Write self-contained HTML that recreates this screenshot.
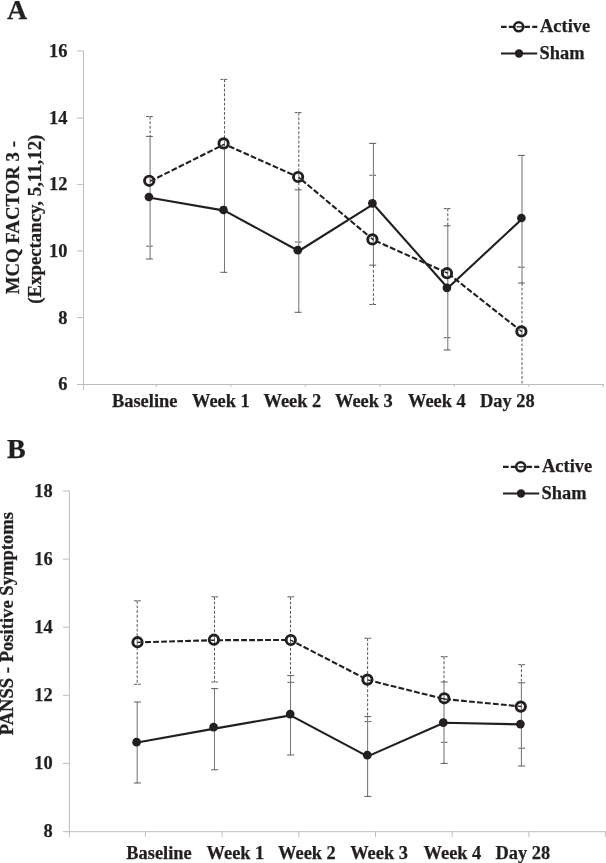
<!DOCTYPE html>
<html><head><meta charset="utf-8"><title>Figure</title>
<style>
html,body{margin:0;padding:0;background:#fff;}
svg{display:block;font-family:"Liberation Serif",serif;font-weight:bold;font-size:18.4px;fill:#231f20;}
text{stroke:#231f20;stroke-width:0.25px;}
.pl{font-size:28px;}
.yt{font-size:18.6px;}
.yt2{font-size:18.8px;}
</style></head><body>
<svg width="606" height="863" viewBox="0 0 606 863">
<rect width="606" height="863" fill="#fff"/>

<text class="pl" x="7" y="19">A</text>
<path d="M83.5 51.0V389.7M77.0 384.5H603.8" stroke="#bdbdbd" stroke-width="1" fill="none"/>
<line x1="77.0" y1="50.9" x2="83.5" y2="50.9" stroke="#bdbdbd" stroke-width="1"/>
<text x="67.5" y="56.6" text-anchor="end">16</text>
<line x1="77.0" y1="118.0" x2="83.5" y2="118.0" stroke="#bdbdbd" stroke-width="1"/>
<text x="67.5" y="123.6" text-anchor="end">14</text>
<line x1="77.0" y1="184.4" x2="83.5" y2="184.4" stroke="#bdbdbd" stroke-width="1"/>
<text x="67.5" y="190.3" text-anchor="end">12</text>
<line x1="77.0" y1="250.9" x2="83.5" y2="250.9" stroke="#bdbdbd" stroke-width="1"/>
<text x="67.5" y="257.0" text-anchor="end">10</text>
<line x1="77.0" y1="317.6" x2="83.5" y2="317.6" stroke="#bdbdbd" stroke-width="1"/>
<text x="67.5" y="323.6" text-anchor="end">8</text>
<text x="67.5" y="390.1" text-anchor="end">6</text>
<line x1="156.3" y1="384.5" x2="156.3" y2="387.0" stroke="#bdbdbd" stroke-width="1"/>
<line x1="230.8" y1="384.5" x2="230.8" y2="387.0" stroke="#bdbdbd" stroke-width="1"/>
<line x1="305.3" y1="384.5" x2="305.3" y2="387.0" stroke="#bdbdbd" stroke-width="1"/>
<line x1="379.8" y1="384.5" x2="379.8" y2="387.0" stroke="#bdbdbd" stroke-width="1"/>
<line x1="454.3" y1="384.5" x2="454.3" y2="387.0" stroke="#bdbdbd" stroke-width="1"/>
<line x1="528.8" y1="384.5" x2="528.8" y2="387.0" stroke="#bdbdbd" stroke-width="1"/>
<line x1="603.3" y1="384.5" x2="603.3" y2="387.0" stroke="#bdbdbd" stroke-width="1"/>
<path d="M150.1 116.5V136.4" stroke="#5e5e5e" stroke-width="1.05" stroke-dasharray="2.9 1.75" fill="none"/>
<path d="M146.10 116.5h6.7M146.10 246.2h6.7" stroke="#4a4a4a" stroke-width="0.9" stroke-dasharray="3 0.8" fill="none"/>
<path d="M224.5 79.4V148.5" stroke="#5e5e5e" stroke-width="1.05" stroke-dasharray="2.9 1.75" fill="none"/>
<path d="M220.50 79.4h6.7M220.50 207h6.7" stroke="#4a4a4a" stroke-width="0.9" stroke-dasharray="3 0.8" fill="none"/>
<path d="M298.8 112.6V189.8" stroke="#5e5e5e" stroke-width="1.05" stroke-dasharray="2.9 1.75" fill="none"/>
<path d="M294.80 112.6h6.7M294.80 242h6.7" stroke="#4a4a4a" stroke-width="0.9" stroke-dasharray="3 0.8" fill="none"/>
<path d="M373.4 265.2V304.5" stroke="#5e5e5e" stroke-width="1.05" stroke-dasharray="2.9 1.75" fill="none"/>
<path d="M369.40 175.3h6.7M369.40 304.5h6.7" stroke="#4a4a4a" stroke-width="0.9" stroke-dasharray="3 0.8" fill="none"/>
<path d="M447.8 208.6V225.8" stroke="#5e5e5e" stroke-width="1.05" stroke-dasharray="2.9 1.75" fill="none"/>
<path d="M443.80 208.6h6.7M443.80 337.7h6.7" stroke="#4a4a4a" stroke-width="0.9" stroke-dasharray="3 0.8" fill="none"/>
<path d="M522.0 283V384.5" stroke="#5e5e5e" stroke-width="1.05" stroke-dasharray="2.9 1.75" fill="none"/>
<path d="M518.00 267.2h6.7" stroke="#4a4a4a" stroke-width="0.9" stroke-dasharray="3 0.8" fill="none"/>
<path d="M150.1 136.4V259" stroke="#767676" stroke-width="1.05" fill="none"/>
<path d="M145.90 136.4h7M145.90 259h7" stroke="#4a4a4a" stroke-width="0.9" fill="none"/>
<path d="M224.5 148.5V272.3" stroke="#767676" stroke-width="1.05" fill="none"/>
<path d="M220.30 148.5h7M220.30 272.3h7" stroke="#4a4a4a" stroke-width="0.9" fill="none"/>
<path d="M298.8 189.8V312.3" stroke="#767676" stroke-width="1.05" fill="none"/>
<path d="M294.60 189.8h7M294.60 312.3h7" stroke="#4a4a4a" stroke-width="0.9" fill="none"/>
<path d="M373.4 143.4V265.2" stroke="#767676" stroke-width="1.05" fill="none"/>
<path d="M369.20 143.4h7M369.20 265.2h7" stroke="#4a4a4a" stroke-width="0.9" fill="none"/>
<path d="M447.8 225.8V350" stroke="#767676" stroke-width="1.05" fill="none"/>
<path d="M443.60 225.8h7M443.60 350h7" stroke="#4a4a4a" stroke-width="0.9" fill="none"/>
<path d="M522.0 155.4V283" stroke="#767676" stroke-width="1.05" fill="none"/>
<path d="M517.80 155.4h7M517.80 283h7" stroke="#4a4a4a" stroke-width="0.9" fill="none"/>
<polyline points="150.1,197.7 224.5,210.6 298.8,251.0 373.4,204.2 447.8,288.0 522.0,219.0" fill="none" stroke="#231f20" stroke-width="2.1" stroke-linejoin="round"/>
<polyline points="150.1,181.3 224.5,144.2 298.8,177.4 373.4,239.9 447.8,273.2 522.0,331.8" fill="none" stroke="#231f20" stroke-width="2.1" stroke-dasharray="5.8 2.2"/>
<circle cx="148.9" cy="197" r="4.35" fill="#231f20"/>
<circle cx="223.5" cy="210" r="4.35" fill="#231f20"/>
<circle cx="297.8" cy="250.2" r="4.35" fill="#231f20"/>
<circle cx="372.4" cy="203.3" r="4.35" fill="#231f20"/>
<circle cx="446.9" cy="287.8" r="4.35" fill="#231f20"/>
<circle cx="521.4" cy="218" r="4.35" fill="#231f20"/>
<circle cx="149.2" cy="180.8" r="4.65" fill="#fff" stroke="#231f20" stroke-width="2.9"/>
<line x1="150.1" y1="177.73" x2="150.1" y2="183.87" stroke="#767676" stroke-width="1.05"/>
<line x1="150.1" y1="181.3" x2="152.40" y2="179.98" stroke="#231f20" stroke-width="1.4"/>
<circle cx="223.6" cy="143.4" r="4.65" fill="#fff" stroke="#231f20" stroke-width="2.9"/>
<line x1="224.5" y1="140.33" x2="224.5" y2="146.47" stroke="#767676" stroke-width="1.05"/>
<line x1="224.5" y1="144.2" x2="221.46" y2="145.72" stroke="#231f20" stroke-width="1.4"/>
<circle cx="298.1" cy="177" r="4.65" fill="#fff" stroke="#231f20" stroke-width="2.9"/>
<line x1="298.8" y1="173.88" x2="298.8" y2="180.12" stroke="#767676" stroke-width="1.05"/>
<line x1="298.8" y1="177.4" x2="300.70" y2="179.03" stroke="#231f20" stroke-width="1.4"/>
<circle cx="372.4" cy="239.4" r="4.65" fill="#fff" stroke="#231f20" stroke-width="2.9"/>
<line x1="373.4" y1="236.36" x2="373.4" y2="242.44" stroke="#767676" stroke-width="1.05"/>
<line x1="373.4" y1="239.9" x2="370.79" y2="237.72" stroke="#231f20" stroke-width="1.4"/>
<circle cx="447" cy="273.2" r="4.65" fill="#fff" stroke="#231f20" stroke-width="2.9"/>
<line x1="447.8" y1="270.10" x2="447.8" y2="276.30" stroke="#767676" stroke-width="1.05"/>
<line x1="447.8" y1="273.2" x2="444.70" y2="271.81" stroke="#231f20" stroke-width="1.4"/>
<circle cx="521.4" cy="331.4" r="4.65" fill="#fff" stroke="#231f20" stroke-width="2.9"/>
<line x1="522.0" y1="328.26" x2="522.0" y2="334.54" stroke="#767676" stroke-width="1.05"/>
<line x1="522.0" y1="331.8" x2="519.33" y2="329.69" stroke="#231f20" stroke-width="1.4"/>
<text x="112" y="407">Baseline</text>
<text x="192" y="407">Week 1</text>
<text x="263.5" y="407">Week 2</text>
<text x="335" y="407">Week 3</text>
<text x="408" y="407">Week 4</text>
<text x="480" y="407">Day 28</text>
<text class="yt2" transform="translate(19,294.3) rotate(-90)">MCQ FACTOR 3 -</text>
<text class="yt2" transform="translate(40.5,303.7) rotate(-90)">(Expectancy, 5,11,12)</text>
<line x1="501" y1="26.8" x2="537.3" y2="26.8" stroke="#231f20" stroke-width="2.2" stroke-dasharray="5.6 2.2"/>
<circle cx="518.7" cy="26.8" r="4.5" fill="#fff" stroke="#231f20" stroke-width="2.6"/>
<line x1="516.6" y1="26.8" x2="522.2" y2="26.8" stroke="#231f20" stroke-width="1.3"/>
<text x="540.1" y="32.4">Active</text>
<line x1="501" y1="53.5" x2="537.2" y2="53.5" stroke="#231f20" stroke-width="2.2"/>
<circle cx="519" cy="53.5" r="4.2" fill="#231f20"/>
<text x="539.6" y="59.0">Sham</text>
<text class="pl" x="7" y="457.6">B</text>
<path d="M69.4 491V836.7M62.900000000000006 831.7H606" stroke="#bdbdbd" stroke-width="1" fill="none"/>
<line x1="62.900000000000006" y1="491.0" x2="69.4" y2="491.0" stroke="#bdbdbd" stroke-width="1"/>
<text x="52.6" y="496.6" text-anchor="end">18</text>
<line x1="62.900000000000006" y1="559.1" x2="69.4" y2="559.1" stroke="#bdbdbd" stroke-width="1"/>
<text x="52.6" y="564.7" text-anchor="end">16</text>
<line x1="62.900000000000006" y1="627.2" x2="69.4" y2="627.2" stroke="#bdbdbd" stroke-width="1"/>
<text x="52.6" y="632.8" text-anchor="end">14</text>
<line x1="62.900000000000006" y1="695.3" x2="69.4" y2="695.3" stroke="#bdbdbd" stroke-width="1"/>
<text x="52.6" y="700.9" text-anchor="end">12</text>
<line x1="62.900000000000006" y1="763.4" x2="69.4" y2="763.4" stroke="#bdbdbd" stroke-width="1"/>
<text x="52.6" y="769.0" text-anchor="end">10</text>
<text x="52.6" y="837.1" text-anchor="end">8</text>
<line x1="145.4" y1="831.7" x2="145.4" y2="836.9000000000001" stroke="#bdbdbd" stroke-width="1"/>
<line x1="222.1" y1="831.7" x2="222.1" y2="836.9000000000001" stroke="#bdbdbd" stroke-width="1"/>
<line x1="298.8" y1="831.7" x2="298.8" y2="836.9000000000001" stroke="#bdbdbd" stroke-width="1"/>
<line x1="375.5" y1="831.7" x2="375.5" y2="836.9000000000001" stroke="#bdbdbd" stroke-width="1"/>
<line x1="452.2" y1="831.7" x2="452.2" y2="836.9000000000001" stroke="#bdbdbd" stroke-width="1"/>
<line x1="528.9" y1="831.7" x2="528.9" y2="836.9000000000001" stroke="#bdbdbd" stroke-width="1"/>
<line x1="605.6" y1="831.7" x2="605.6" y2="836.9000000000001" stroke="#bdbdbd" stroke-width="1"/>
<path d="M137.2 600.8V684.3" stroke="#5e5e5e" stroke-width="1.05" stroke-dasharray="2.9 1.75" fill="none"/>
<path d="M134.10 600.8h6.7M134.10 684.3h6.7" stroke="#4a4a4a" stroke-width="0.9" stroke-dasharray="3 0.8" fill="none"/>
<path d="M214.5 596.8V682" stroke="#5e5e5e" stroke-width="1.05" stroke-dasharray="2.9 1.75" fill="none"/>
<path d="M211.40 596.8h6.7M211.40 682h6.7" stroke="#4a4a4a" stroke-width="0.9" stroke-dasharray="3 0.8" fill="none"/>
<path d="M290.5 596.8V675.6" stroke="#5e5e5e" stroke-width="1.05" stroke-dasharray="2.9 1.75" fill="none"/>
<path d="M287.40 596.8h6.7M287.40 682.3h6.7" stroke="#4a4a4a" stroke-width="0.9" stroke-dasharray="3 0.8" fill="none"/>
<path d="M367.6 638.2V716.6" stroke="#5e5e5e" stroke-width="1.05" stroke-dasharray="2.9 1.75" fill="none"/>
<path d="M364.50 638.2h6.7M364.50 721.6h6.7" stroke="#4a4a4a" stroke-width="0.9" stroke-dasharray="3 0.8" fill="none"/>
<path d="M444.0 656.7V682" stroke="#5e5e5e" stroke-width="1.05" stroke-dasharray="2.9 1.75" fill="none"/>
<path d="M440.90 656.7h6.7M440.90 742.3h6.7" stroke="#4a4a4a" stroke-width="0.9" stroke-dasharray="3 0.8" fill="none"/>
<path d="M521.4 664.7V682.8" stroke="#5e5e5e" stroke-width="1.05" stroke-dasharray="2.9 1.75" fill="none"/>
<path d="M518.30 664.7h6.7M518.30 748.2h6.7" stroke="#4a4a4a" stroke-width="0.9" stroke-dasharray="3 0.8" fill="none"/>
<path d="M137.2 702V783" stroke="#767676" stroke-width="1.05" fill="none"/>
<path d="M133.90 702h7M133.90 783h7" stroke="#4a4a4a" stroke-width="0.9" fill="none"/>
<path d="M214.5 688.6V769.8" stroke="#767676" stroke-width="1.05" fill="none"/>
<path d="M211.20 688.6h7M211.20 769.8h7" stroke="#4a4a4a" stroke-width="0.9" fill="none"/>
<path d="M290.5 675.6V755" stroke="#767676" stroke-width="1.05" fill="none"/>
<path d="M287.20 675.6h7M287.20 755h7" stroke="#4a4a4a" stroke-width="0.9" fill="none"/>
<path d="M367.6 716.6V796.4" stroke="#767676" stroke-width="1.05" fill="none"/>
<path d="M364.30 716.6h7M364.30 796.4h7" stroke="#4a4a4a" stroke-width="0.9" fill="none"/>
<path d="M444.0 682V763.4" stroke="#767676" stroke-width="1.05" fill="none"/>
<path d="M440.70 682h7M440.70 763.4h7" stroke="#4a4a4a" stroke-width="0.9" fill="none"/>
<path d="M521.4 682.8V766" stroke="#767676" stroke-width="1.05" fill="none"/>
<path d="M518.10 682.8h7M518.10 766h7" stroke="#4a4a4a" stroke-width="0.9" fill="none"/>
<polyline points="137.2,742.5 214.5,728.6 290.5,715.4 367.6,756.4 444.0,722.7 521.4,724.4" fill="none" stroke="#231f20" stroke-width="2.1" stroke-linejoin="round"/>
<polyline points="137.2,642.4 214.5,640.2 290.5,640.0 367.6,679.9 444.0,699.0 521.4,706.5" fill="none" stroke="#231f20" stroke-width="2.1" stroke-dasharray="5.8 2.2"/>
<circle cx="136.6" cy="742.2" r="4.35" fill="#231f20"/>
<circle cx="213.6" cy="727.2" r="4.35" fill="#231f20"/>
<circle cx="290.2" cy="714.1" r="4.35" fill="#231f20"/>
<circle cx="367.3" cy="755.2" r="4.35" fill="#231f20"/>
<circle cx="443.3" cy="722.6" r="4.35" fill="#231f20"/>
<circle cx="520.4" cy="724.1" r="4.35" fill="#231f20"/>
<circle cx="137.5" cy="642.2" r="4.65" fill="#fff" stroke="#231f20" stroke-width="2.9"/>
<line x1="137.2" y1="639.01" x2="137.2" y2="645.39" stroke="#767676" stroke-width="1.05"/>
<line x1="137.2" y1="642.4" x2="140.60" y2="642.30" stroke="#231f20" stroke-width="1.4"/>
<circle cx="213.9" cy="639.7" r="4.65" fill="#fff" stroke="#231f20" stroke-width="2.9"/>
<line x1="214.5" y1="636.56" x2="214.5" y2="642.84" stroke="#767676" stroke-width="1.05"/>
<line x1="214.5" y1="640.2" x2="211.10" y2="640.30" stroke="#231f20" stroke-width="1.4"/>
<circle cx="290.8" cy="640" r="4.65" fill="#fff" stroke="#231f20" stroke-width="2.9"/>
<line x1="290.5" y1="636.81" x2="290.5" y2="643.19" stroke="#767676" stroke-width="1.05"/>
<line x1="290.5" y1="640.0" x2="293.52" y2="641.56" stroke="#231f20" stroke-width="1.4"/>
<circle cx="367.4" cy="679.6" r="4.65" fill="#fff" stroke="#231f20" stroke-width="2.9"/>
<line x1="367.6" y1="676.41" x2="367.6" y2="682.79" stroke="#767676" stroke-width="1.05"/>
<line x1="367.6" y1="679.9" x2="370.54" y2="680.61" stroke="#231f20" stroke-width="1.4"/>
<circle cx="444.3" cy="698.3" r="4.65" fill="#fff" stroke="#231f20" stroke-width="2.9"/>
<line x1="444.0" y1="695.11" x2="444.0" y2="701.49" stroke="#767676" stroke-width="1.05"/>
<line x1="444.0" y1="699.0" x2="441.00" y2="698.19" stroke="#231f20" stroke-width="1.4"/>
<line x1="444.0" y1="699.0" x2="447.38" y2="699.33" stroke="#231f20" stroke-width="1.4"/>
<circle cx="520.8" cy="706.6" r="4.65" fill="#fff" stroke="#231f20" stroke-width="2.9"/>
<line x1="521.4" y1="703.46" x2="521.4" y2="709.74" stroke="#767676" stroke-width="1.05"/>
<line x1="521.4" y1="706.5" x2="518.02" y2="706.17" stroke="#231f20" stroke-width="1.4"/>
<text x="126.3" y="859">Baseline</text>
<text x="206.6" y="859">Week 1</text>
<text x="278.1" y="859">Week 2</text>
<text x="350.2" y="859">Week 3</text>
<text x="423.6" y="859">Week 4</text>
<text x="495.6" y="859">Day 28</text>
<text class="yt" transform="translate(12.5,735.3) rotate(-90)">PANSS - Positive Symptoms</text>
<line x1="503" y1="466.8" x2="539.3" y2="466.8" stroke="#231f20" stroke-width="2.2" stroke-dasharray="5.6 2.2"/>
<circle cx="520.7" cy="466.8" r="4.5" fill="#fff" stroke="#231f20" stroke-width="2.6"/>
<line x1="518.6" y1="466.8" x2="524.2" y2="466.8" stroke="#231f20" stroke-width="1.3"/>
<text x="542.1" y="472.40000000000003">Active</text>
<line x1="503" y1="493.5" x2="539.2" y2="493.5" stroke="#231f20" stroke-width="2.2"/>
<circle cx="521" cy="493.5" r="4.2" fill="#231f20"/>
<text x="541.6" y="499.0">Sham</text>
</svg></body></html>
